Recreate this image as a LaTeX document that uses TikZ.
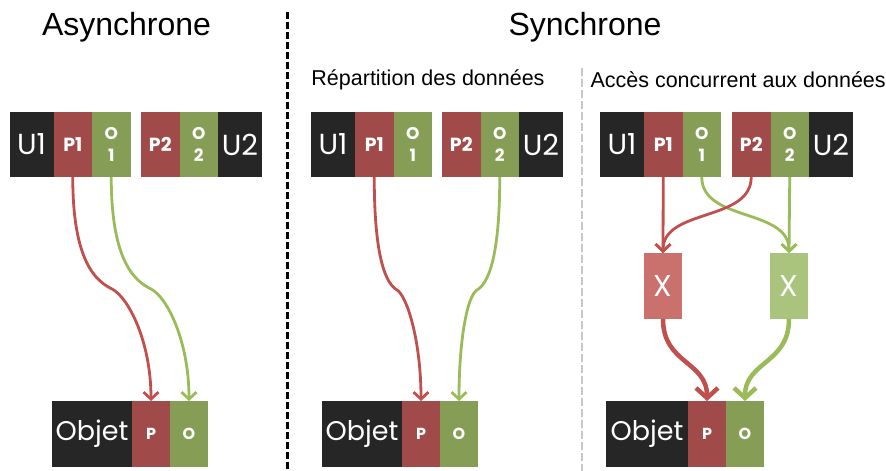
\documentclass[tikz,border=0pt]{standalone}
\usepackage{fontspec}
\setmainfont{Liberation Sans}
\newfontfamily\blockfont{Poppins}
\usepackage{tikz}
\usetikzlibrary{positioning}
\usetikzlibrary{arrows.meta}
\definecolor{blk}{HTML}{262626}
\definecolor{pcol}{HTML}{A04B49}
\definecolor{ocol}{HTML}{869D55}
\definecolor{redline}{HTML}{C0504D}
\definecolor{greenline}{HTML}{9BBB59}
\definecolor{xred}{HTML}{CA706D}
\definecolor{xgreen}{HTML}{AAC47D}
\definecolor{sepgray}{HTML}{C8C8C8}

\begin{document}
\begin{tikzpicture}[
    x=1pt, y=-1pt,
    seg/.style={
      rectangle,
      inner sep=0pt,
      outer sep=0pt,
      minimum height=65pt,
      text=white,
      font=\blockfont\bfseries\fontsize{19}{21}\selectfont
    },
    useg/.style={
      seg, fill=blk, minimum width=44pt,
      font=\blockfont\fontsize{29}{32}\selectfont
    },
    pseg/.style={seg, fill=pcol, minimum width=38.5pt},
    oseg/.style={
      seg, fill=ocol, minimum width=38.5pt, align=center,
      font=\blockfont\bfseries\fontsize{17}{22}\selectfont
    },
    objseg/.style={
      seg, fill=blk, minimum width=80pt, minimum height=66pt,
      font=\blockfont\fontsize{27}{30}\selectfont
    },
    pobj/.style={seg, fill=pcol, minimum width=38pt, minimum height=66pt,
      font=\blockfont\bfseries\fontsize{16}{18}\selectfont},
    oobj/.style={seg, fill=ocol, minimum width=38pt, minimum height=66pt,
      font=\blockfont\bfseries\fontsize{16}{18}\selectfont},
    xbox/.style={
      seg, minimum width=38pt, minimum height=66pt,
      font=\blockfont\fontsize{30}{32}\selectfont
    },
    title/.style={font=\fontsize{32}{36}\selectfont},
    subtitle/.style={font=\fontsize{21.5}{24}\selectfont},
    redarr/.style={
      draw=redline, line width=2.8pt,
      -{Straight Barb[length=7pt, width=15pt]}
    },
    greenarr/.style={
      draw=greenline, line width=2.8pt,
      -{Straight Barb[length=7pt, width=15pt]}
    },
    bigred/.style={
      draw=redline, line width=4.5pt,
      -{Straight Barb[length=10pt, width=22pt]}
    },
    biggreen/.style={
      draw=greenline, line width=4.5pt,
      -{Straight Barb[length=10pt, width=22pt]}
    }
  ]
  \useasboundingbox (0,0) rectangle (886,471);

  % titles and separators
  \node[title] (tasync) at (126.5,27) {Asynchrone};
  \node[title] (tsync) at (585,27) {Synchrone};
  \node[subtitle] (trep) at (428,80) {Répartition des données};
  \node[subtitle, anchor=west] (tacc) at (587,80) {Accès concurrent aux données};
  \draw[line width=3pt, dash pattern=on 7pt off 3pt] (287,12) -- (287,471);
  \draw[sepgray, line width=2pt, dash pattern=on 8pt off 3pt] (582,68) -- (582,471);

  % asynchrone
  \begin{scope}
    \node[useg, anchor=north west] (u1a) at (9.5,112) {U1};
    \node[pseg, right=0pt of u1a] (p1a) {P1};
    \node[oseg, right=0pt of p1a] (o1a) {O\\1};
    \node[pseg, anchor=north west] (p2a) at (141,112) {P2};
    \node[oseg, right=0pt of p2a] (o2a) {O\\2};
    \node[useg, right=0pt of o2a] (u2a) {U2};

    \node[objseg, anchor=north west] (obja) at (52,401) {Objet};
    \node[pobj, right=0pt of obja] (pa) {P};
    \node[oobj, right=0pt of pa] (oa) {O};

    \coordinate (ka) at (112,289);
    \coordinate (kb) at (151,289);
    \draw[redarr] (p1a.south) .. controls +(0,85) and +(-16,-8) .. (ka)
      .. controls +(16,8) and +(0,-60) .. (pa.north);
    \draw[greenarr] (o1a.south) .. controls +(0,85) and +(-16,-8) .. (kb)
      .. controls +(16,8) and +(0,-60) .. (oa.north);
  \end{scope}

  % repartition des donnees
  \begin{scope}
    \node[useg, anchor=north west] (u1b) at (311,112) {U1};
    \node[pseg, right=0pt of u1b] (p1b) {P1};
    \node[oseg, right=0pt of p1b] (o1b) {O\\1};
    \node[pseg, anchor=north west] (p2b) at (442,112) {P2};
    \node[oseg, right=0pt of p2b] (o2b) {O\\2};
    \node[useg, right=0pt of o2b] (u2b) {U2};

    \node[objseg, anchor=north west] (objb) at (322,401) {Objet};
    \node[pobj, right=0pt of objb] (pb) {P};
    \node[oobj, right=0pt of pb] (ob) {O};

    \coordinate (kc) at (397,290);
    \coordinate (kd) at (477,290);
    \draw[redarr] (p1b.south) .. controls +(0,85) and +(-10,-6) .. (kc)
      .. controls +(10,6) and +(0,-60) .. (pb.north);
    \draw[greenarr] (o2b.south) .. controls +(0,85) and +(10,-6) .. (kd)
      .. controls +(-10,6) and +(0,-60) .. (ob.north);
  \end{scope}

  % acces concurrent
  \begin{scope}
    \node[useg, anchor=north west] (u1c) at (600,112) {U1};
    \node[pseg, right=0pt of u1c] (p1c) {P1};
    \node[oseg, right=0pt of p1c] (o1c) {O\\1};
    \node[pseg, anchor=north west] (p2c) at (732,112) {P2};
    \node[oseg, right=0pt of p2c] (o2c) {O\\2};
    \node[useg, right=0pt of o2c] (u2c) {U2};

    \node[xbox, fill=xred, anchor=north] (xr) at (663,253) {X};
    \node[xbox, fill=xgreen, anchor=north] (xg) at (789,253) {X};

    \node[objseg, minimum width=82pt, anchor=north west] (objc) at (606,401) {Objet};
    \node[pobj, right=0pt of objc] (pc) {P};
    \node[oobj, right=0pt of pc] (oc) {O};

    \draw[greenarr] (o1c.south) .. controls +(0,45) and +(0,-45) .. (xg.north);
    \draw[redarr] (p2c.south) .. controls +(0,45) and +(0,-45) .. (xr.north);
    \draw[redarr] (p1c.south) -- (xr.north);
    \draw[greenarr] (o2c.south) -- (xg.north);

    \draw[bigred] (xr.south) .. controls +(0,45) and +(0,-40) .. (pc.north);
    \draw[biggreen] (xg.south) .. controls +(0,45) and +(0,-40) .. (oc.north);
  \end{scope}

\end{tikzpicture}
\end{document}
